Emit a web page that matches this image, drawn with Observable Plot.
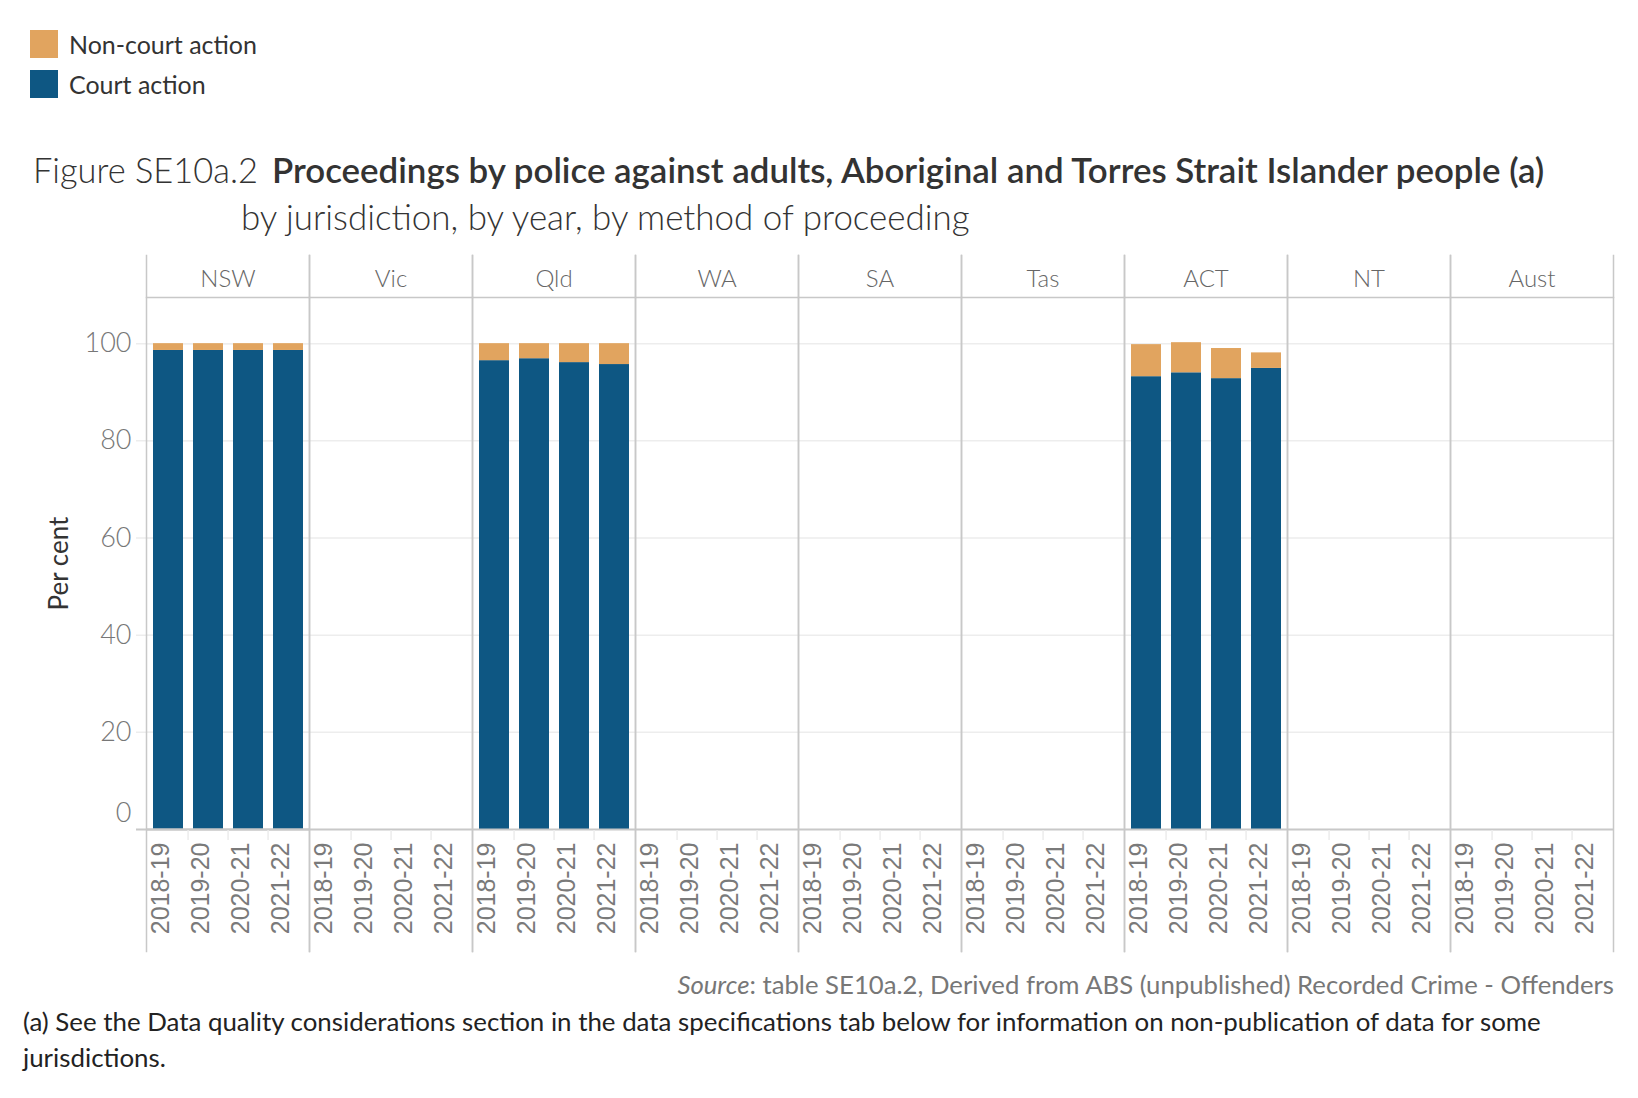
<!DOCTYPE html>
<html><head><meta charset="utf-8">
<script src="https://cdn.jsdelivr.net/npm/d3@7"></script>
<script src="https://cdn.jsdelivr.net/npm/@observablehq/plot@0.6"></script>
<style>
body{margin:0;background:#fff;font-family:Lato,sans-serif;}
#page{position:relative;width:1638px;height:1098px;overflow:hidden;background:#fff;}
.abs{position:absolute;white-space:nowrap;line-height:1;transform:translateY(-50%);}
#chart{position:absolute;left:0;top:240px;}
</style></head><body><div id="page"><div id="chart"></div></div>
<script>
// ---- data ----
const jurisdictions = ["NSW","Vic","Qld","WA","SA","Tas","ACT","NT","Aust"];
const years = ["2018-19","2019-20","2020-21","2021-22"];
const methods = ["Court action","Non-court action"];
const methodColors = ["#0e5783","#e1a45f"];
const legendOrder = ["Non-court action","Court action"];
const nswCourt = [98.6,98.6,98.6,98.6];
const nswNonCourt = [1.4,1.4,1.4,1.4];
const qldCourt = [96.5,96.9,96.1,95.7];
const qldNonCourt = [3.5,3.1,3.9,4.3];
const actCourt = [93.2,94.0,92.8,94.9];
const actNonCourt = [6.6,6.2,6.2,3.2];
const yTicks = [0,20,40,60,80,100];

const titleLead = "Figure SE10a.2";
const titleMain = "Proceedings by police against adults, Aboriginal and Torres Strait Islander people (a)";
const subtitle = "by jurisdiction, by year, by method of proceeding";
const sourceLabel = "Source";
const sourceText = ": table SE10a.2, Derived from ABS (unpublished) Recorded Crime - Offenders";
const noteLine1 = "(a) See the Data quality considerations section in the data specifications tab below for information on non-publication of data for some";
const noteLine2 = "jurisdictions.";

// ---- table ----
const series = [["NSW",nswCourt,nswNonCourt],["Qld",qldCourt,qldNonCourt],["ACT",actCourt,actNonCourt]];
const rows = [];
for (const [jur,c,n] of series) years.forEach((yr,i)=>{
  rows.push({jur, year:yr, method:methods[0], value:c[i]});
  rows.push({jur, year:yr, method:methods[1], value:n[i]});
});
const labelRows = [];
const tickRows = [];
for (const jur of jurisdictions) years.forEach((yr,i)=>{
  labelRows.push({jur, year:yr});
  if (i>0) tickRows.push({jur, year:yr});
});
const yLabels = yTicks.map(v=>({jur:"NSW", v}));

// ---- layout ----
const W=1638, mL=144, mR=24, mT=57, plotH=532, mB=130, H=mT+plotH+mB;
const facetW=(W-mL-mR)/jurisdictions.length;
const pIn=0.26, pOut=0.13;
const step=facetW/(years.length-pIn+2*pOut);
const grey="#c8c8c8", gridC="#ededed";

const chart = Plot.plot({
  width:W, height:H, marginLeft:mL, marginRight:mR, marginTop:mT, marginBottom:mB,
  fx:{domain:jurisdictions, padding:0, axis:null, label:null},
  x:{domain:years, paddingInner:pIn, paddingOuter:pOut, axis:null},
  y:{domain:[0,109.5], axis:null},
  color:{domain:methods, range:methodColors},
  style:{fontFamily:"Lato, sans-serif", background:"transparent", overflow:"visible"},
  marks:[
    Plot.ruleY(yTicks.slice(1), {stroke:gridC, strokeWidth:1.5}),
    Plot.ruleY(yLabels.slice(1), {fx:"jur", y:"v", stroke:gridC, strokeWidth:1.5, insetLeft:-10}),
    Plot.barY(rows, {fx:"jur", x:"year", y:"value", fill:"method", order:methods}),
    Plot.ruleY([0], {stroke:grey, strokeWidth:2}),
    Plot.ruleY(yLabels.slice(0,1), {fx:"jur", y:"v", stroke:grey, strokeWidth:2, insetLeft:-10}),
    Plot.ruleX(tickRows, {fx:"jur", x:"year", dx:-step/2, stroke:"#ececec", strokeWidth:1.5, insetTop:plotH+1, insetBottom:-11}),
    Plot.frame({anchor:"top", stroke:grey, strokeWidth:1.5}),
    Plot.frame({anchor:"left", stroke:grey, strokeWidth:1.5, insetTop:-42, insetBottom:-122}),
    Plot.frame({anchor:"right", stroke:grey, strokeWidth:1.5, insetTop:-42, insetBottom:-122}),
    Plot.text(jurisdictions, {fx:d=>d, text:d=>d, frameAnchor:"top", dy:-28, fill:"#666", fontSize:24, fontWeight:300}),
    Plot.text(labelRows, {fx:"jur", x:"year", text:"year", frameAnchor:"bottom", dy:13, rotate:-90, textAnchor:"end", fill:"#7a7a7a", fontSize:25, fontFamily:"Liberation Sans, Arial, sans-serif"}),
    Plot.text(yLabels.slice(1), {fx:"jur", y:"v", text:d=>String(d.v), frameAnchor:"left", dx:-15, textAnchor:"end", fill:"#777", fontSize:27, fontWeight:300}),
    Plot.text(yLabels.slice(0,1), {fx:"jur", y:"v", text:d=>String(d.v), frameAnchor:"left", dx:-15, dy:-16, textAnchor:"end", fill:"#777", fontSize:27, fontWeight:300}),
    Plot.text([{jur:"NSW"}], {fx:"jur", text:()=>"Per cent", frameAnchor:"left", dx:-87, rotate:-90, textAnchor:"middle", fill:"#333", fontSize:26})
  ]
});
document.getElementById("chart").appendChild(chart);

// ---- html text ----
const page = document.getElementById("page");
function addText(html, opts){
  const el = document.createElement("div");
  el.className = "abs";
  el.innerHTML = html;
  Object.assign(el.style, opts.style||{});
  el.style.fontSize = (opts.size||20)+"px";
  el.style.top = opts.cy+"px";
  if (opts.right!=null) el.style.right = opts.right+"px"; else el.style.left = opts.left+"px";
  page.appendChild(el);
  if (opts.fit){
    const w = el.getBoundingClientRect().width;
    el.style.fontSize = ((opts.size||20)*opts.fit/w)+"px";
  }
  return el;
}
legendOrder.forEach((m,i)=>{
  const sw = document.createElement("div");
  Object.assign(sw.style,{position:"absolute",left:"30px",top:(30+i*40)+"px",width:"28px",height:"28px",background:methodColors[methods.indexOf(m)]});
  page.appendChild(sw);
});
const leg1 = addText(legendOrder[0], {left:69, cy:44, size:22, fit:188, style:{color:"#333"}});
addText(legendOrder[1], {left:69, cy:84, size:parseFloat(leg1.style.fontSize), style:{color:"#333"}});
addText(titleLead, {left:33, cy:170, size:28, fit:225, style:{color:"#333", fontWeight:"300"}});
addText(titleMain, {left:272, cy:170, size:28, fit:1273, style:{color:"#333", fontWeight:"600"}});
addText(subtitle, {left:241, cy:217, size:28, fit:729, style:{color:"#333", fontWeight:"300"}});
addText("<i>"+sourceLabel+"</i>"+sourceText, {right:24, cy:985, size:22, fit:937, style:{color:"#777"}});
const n1 = addText(noteLine1, {left:23, cy:1022, size:22, fit:1518, style:{color:"#222"}});
addText(noteLine2, {left:23, cy:1058, size:parseFloat(n1.style.fontSize), style:{color:"#222"}});
</script></body></html>
